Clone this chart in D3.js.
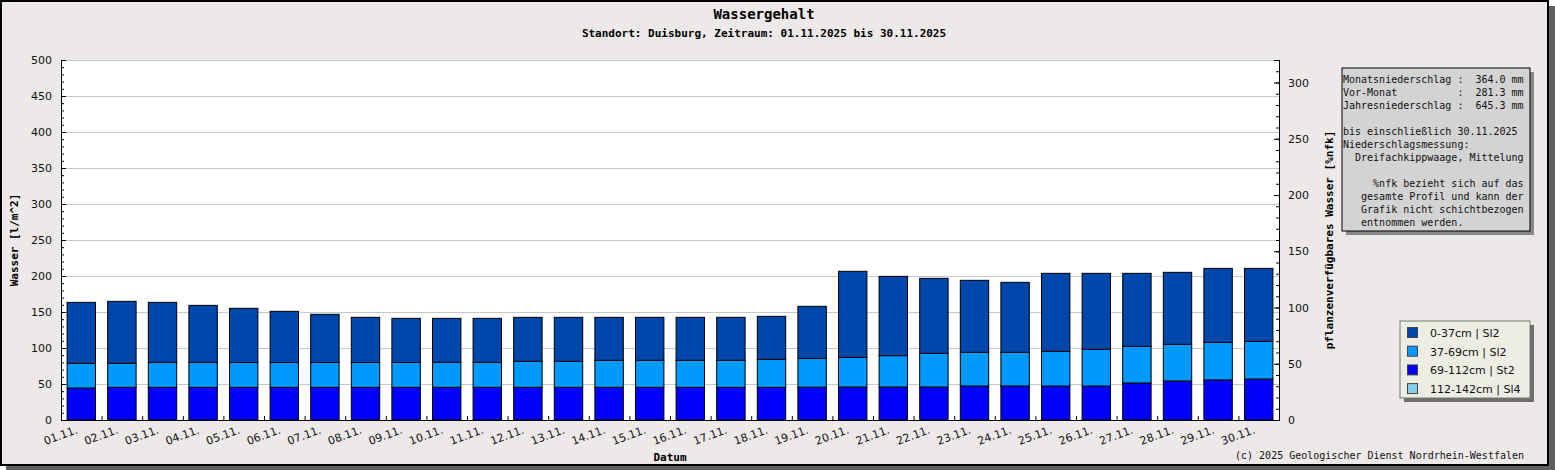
<!DOCTYPE html>
<html>
<head>
<meta charset="utf-8">
<script src="https://cdn.jsdelivr.net/npm/d3@7"></script>
<style>
  body { margin: 0; background: #fff; }
  svg { display: block; }
  .mono { font-family: "DejaVu Sans Mono", monospace; }
  .sans { font-family: "DejaVu Sans", sans-serif; }
</style>
</head>
<body>
<svg id="drawing_region"></svg>
<script>
// Tage im November
const days = ['01.11.','02.11.','03.11.','04.11.','05.11.','06.11.','07.11.','08.11.','09.11.','10.11.',
              '11.11.','12.11.','13.11.','14.11.','15.11.','16.11.','17.11.','18.11.','19.11.','20.11.',
              '21.11.','22.11.','23.11.','24.11.','25.11.','26.11.','27.11.','28.11.','29.11.','30.11.'];

// Wasser je Schicht [l/m^2]
const layer_0_37 = [84.7, 86.1, 83.3, 79.1, 75.1, 70.9, 66.8, 62.6, 61.2, 61.1,
                    61.1, 61.1, 61.1, 59.7, 59.7, 59.7, 59.7, 59.7, 72.3, 119.5,
                    110.1, 104.2, 100.0, 97.2, 108.3, 105.6, 101.4, 100.0, 102.7, 101.3];
const layer_37_69 = [34.3, 33.3, 34.7, 34.7, 34.6, 34.6, 34.6, 34.6, 34.6, 34.7,
                     34.7, 36.1, 36.1, 37.5, 37.5, 37.5, 37.5, 38.9, 40.0, 41.2,
                     43.6, 46.8, 46.8, 46.8, 48.2, 50.9, 50.9, 50.9, 52.3, 52.4];
const layer_69_112 = [44.4, 45.4, 45.4, 45.4, 45.4, 45.4, 45.4, 45.4, 45.4, 45.4,
                      45.4, 45.4, 45.4, 45.4, 45.4, 45.4, 45.4, 45.4, 45.6, 45.8,
                      45.8, 45.8, 47.2, 47.2, 47.2, 47.2, 51.4, 54.2, 55.6, 56.9];
const layer_112_142 = [0, 0, 0, 0, 0, 0, 0, 0, 0, 0,
                       0, 0, 0, 0, 0, 0, 0, 0, 0, 0,
                       0, 0, 0, 0, 0, 0, 0, 0, 0, 0];

const legend_labels = ['0-37cm | Sl2', '37-69cm | Sl2', '69-112cm | St2', '112-142cm | Sl4'];
const left_ticks = [0, 50, 100, 150, 200, 250, 300, 350, 400, 450, 500];
const right_ticks = [0, 50, 100, 150, 200, 250, 300];

const info_lines = [
  'Monatsniederschlag :  364.0 mm',
  'Vor-Monat          :  281.3 mm',
  'Jahresniederschlag :  645.3 mm',
  '',
  'bis einschließlich 30.11.2025',
  'Niederschlagsmessung:',
  '  Dreifachkippwaage, Mittelung',
  '',
  '     %nfk bezieht sich auf das',
  '   gesamte Profil und kann der',
  '   Grafik nicht schichtbezogen',
  '   entnommen werden.'
];

const W = 1555, H = 470;
const margin = {top: 60, right: 276, bottom: 50, left: 61};
const plotL = margin.left, plotR = W - margin.right, plotT = margin.top, plotB = H - margin.bottom;

const svg = d3.select('#drawing_region').attr('width', W).attr('height', H);

// Rahmen mit Schatten
svg.append('rect').attr('x', 6).attr('y', 6).attr('width', W - 6).attr('height', H - 6).attr('fill', '#5f5f5f');
svg.append('rect').attr('x', 1).attr('y', 1).attr('width', 1547).attr('height', 464)
   .attr('fill', '#ECE9E8').attr('stroke', '#000').attr('stroke-width', 2);

// Titel
svg.append('text').attr('class', 'mono').attr('x', 764).attr('y', 19)
   .attr('text-anchor', 'middle').attr('font-size', '14px').attr('font-weight', 'bold')
   .text('Wassergehalt');
svg.append('text').attr('class', 'mono').attr('x', 764).attr('y', 37)
   .attr('text-anchor', 'middle').attr('font-size', '11px').attr('font-weight', 'bold')
   .text('Standort: Duisburg, Zeitraum: 01.11.2025 bis 30.11.2025');

// Skalen
const xscale = d3.scaleBand().domain(days).range([plotL, plotR]).paddingInner(0.3).paddingOuter(0.15);
const xedge = d3.scaleLinear().domain([0, days.length]).range([plotL, plotR]);
const yscale = d3.scaleLinear().domain([0, 500]).range([plotB, plotT]);
const y2scale = d3.scaleLinear().domain([0, 320]).range([plotB, plotT]);

svg.append('rect').attr('x', plotL).attr('y', plotT).attr('width', plotR - plotL).attr('height', plotB - plotT)
   .attr('fill', '#fff');

// Gitterlinien
svg.append('g').attr('transform', `translate(${plotL},0)`)
   .call(d3.axisLeft(yscale).tickValues(left_ticks).tickSize(-(plotR - plotL)).tickFormat(''))
   .call(g => g.select('.domain').remove())
   .call(g => g.selectAll('line').attr('stroke', '#c8c8c8'));

// Balken
const table = days.map((d, i) => ({
  day: d, l0: layer_0_37[i], l37: layer_37_69[i], l69: layer_69_112[i], l112: layer_112_142[i]
}));
const keys = ['l112', 'l69', 'l37', 'l0'];
const colors = {l0: '#0047AB', l37: '#0099FF', l69: '#0000FF', l112: '#87CEEB'};
const stacked = d3.stack().keys(keys)(table);

svg.append('g').selectAll('g').data(stacked).join('g')
   .attr('fill', s => colors[s.key])
   .selectAll('rect').data(s => s.filter(d => d[1] - d[0] > 0)).join('rect')
   .attr('x', d => xscale(d.data.day))
   .attr('width', xscale.bandwidth())
   .attr('y', d => yscale(d[1]))
   .attr('height', d => yscale(d[0]) - yscale(d[1]))
   .attr('stroke', '#000').attr('stroke-width', 1);

// linke Achse
const left = svg.append('g').attr('transform', `translate(${plotL},0)`);
left.call(d3.axisRight(yscale).tickValues(d3.range(0, 501, 10)).tickSize(3).tickFormat(''));
left.append('g').call(d3.axisRight(yscale).tickValues(left_ticks).tickSize(5).tickFormat(''));
left.append('g').call(d3.axisLeft(yscale).tickValues(left_ticks).tickSize(0).tickPadding(9))
    .call(g => g.select('.domain').remove())
    .call(g => g.selectAll('text').attr('class', 'sans').attr('font-size', '11px').attr('fill', '#111'));
left.selectAll('.domain').attr('stroke', '#000');

// rechte Achse
const right = svg.append('g').attr('transform', `translate(${plotR},0)`);
right.call(d3.axisLeft(y2scale).tickValues(d3.range(0, 321, 10)).tickSize(3).tickFormat(''));
right.append('g').call(d3.axisLeft(y2scale).tickValues(right_ticks).tickSize(5).tickFormat(''));
right.append('g').call(d3.axisRight(y2scale).tickValues(right_ticks).tickSize(0).tickPadding(9))
     .call(g => g.select('.domain').remove())
     .call(g => g.selectAll('text').attr('class', 'sans').attr('font-size', '11px').attr('fill', '#111'));

// x-Achse
svg.append('g').attr('transform', `translate(0,${plotB})`)
   .call(d3.axisTop(xedge).tickValues(d3.range(1, days.length)).tickSize(4).tickFormat('').tickSizeOuter(0));

svg.append('g').selectAll('text').data(days).join('text')
   .attr('class', 'sans').attr('font-size', '11px').attr('fill', '#111')
   .attr('text-anchor', 'end')
   .attr('transform', d => `translate(${xscale(d) + xscale.bandwidth() / 2 - 3},${plotB + 13}) rotate(-20)`)
   .text(d => d);

// Achsentitel
svg.append('text').attr('class', 'mono').attr('font-size', '11px').attr('font-weight', 'bold')
   .attr('text-anchor', 'middle').attr('x', (plotL + plotR) / 2).attr('y', 461).text('Datum');
svg.append('text').attr('class', 'mono').attr('font-size', '11px').attr('font-weight', 'bold')
   .attr('text-anchor', 'middle').attr('transform', `translate(18,${(plotT + plotB) / 2}) rotate(-90)`)
   .text('Wasser [l/m^2]');
svg.append('text').attr('class', 'mono').attr('font-size', '11px').attr('font-weight', 'bold')
   .attr('text-anchor', 'middle').attr('transform', `translate(1333,${(plotT + plotB) / 2}) rotate(-90)`)
   .text('pflanzenverfügbares Wasser [%nfk]');

// Copyright
svg.append('text').attr('class', 'mono').attr('font-size', '10px').attr('fill', '#111')
   .attr('text-anchor', 'end').attr('x', 1524).attr('y', 459)
   .text('(c) 2025 Geologischer Dienst Nordrhein-Westfalen');

// Infobox
const info = svg.append('g').attr('transform', 'translate(1342,68)');
info.append('rect').attr('x', 4).attr('y', 4).attr('width', 188).attr('height', 163).attr('fill', '#888');
info.append('rect').attr('width', 188).attr('height', 163).attr('fill', '#D3D3D3').attr('stroke', '#000');
info.selectAll('text').data(info_lines).join('text')
    .attr('class', 'mono').attr('font-size', '10px').attr('fill', '#111')
    .style('white-space', 'pre')
    .attr('x', 1).attr('y', (d, i) => 15 + i * 13)
    .text(d => d);

// Legende
const legend = svg.append('g').attr('transform', 'translate(1400,321)');
legend.append('rect').attr('x', 4).attr('y', 4).attr('width', 130).attr('height', 77).attr('fill', '#6e6e6e');
legend.append('rect').attr('width', 130).attr('height', 77).attr('fill', '#EDEDE3').attr('stroke', '#777');
const legend_keys = ['l0', 'l37', 'l69', 'l112'];
const rows = legend.selectAll('g').data(legend_labels).join('g')
    .attr('transform', (d, i) => `translate(0,${12 + i * 18.7})`);
rows.append('rect').attr('x', 7.5).attr('y', -5.5).attr('width', 10).attr('height', 10)
    .attr('fill', (d, i) => colors[legend_keys[i]]).attr('stroke', '#444');
rows.append('text').attr('class', 'sans').attr('font-size', '11px').attr('fill', '#111')
    .attr('x', 30).attr('y', 4).text(d => d);
</script>
</body>
</html>
